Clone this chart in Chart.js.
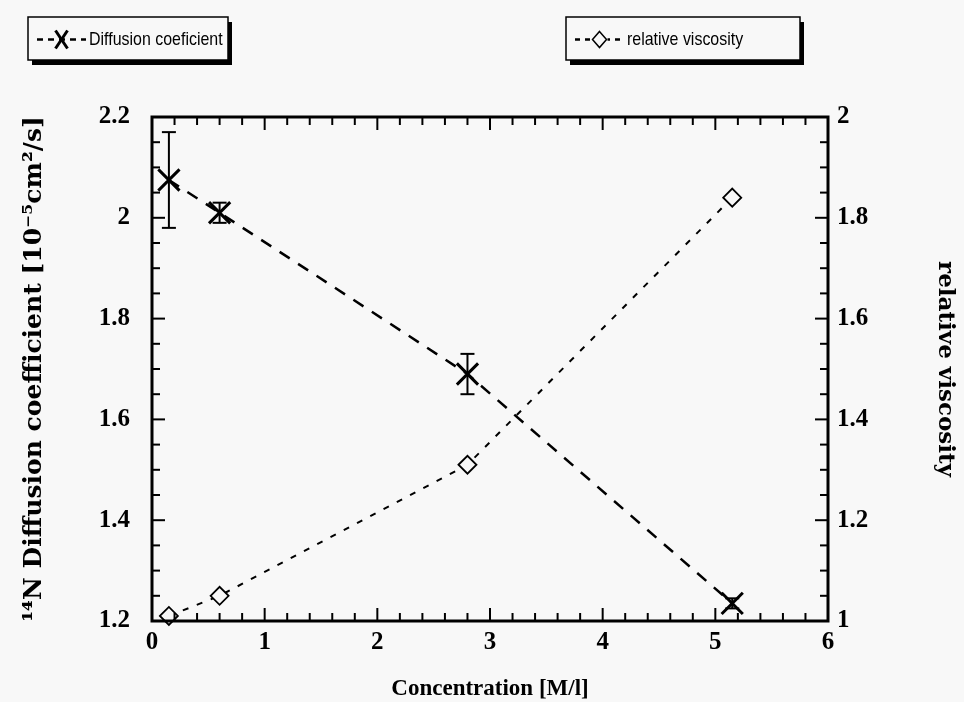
<!DOCTYPE html>
<html lang="en">
<head>
    <meta charset="UTF-8">
    <title>Diffusion coefficient and relative viscosity</title>
    <script src="https://cdn.jsdelivr.net/npm/chart.js"></script>
    <style>
        html, body {
            margin: 0;
            padding: 0;
            background: #f8f8f8;
        }
        #wrap {
            position: relative;
            width: 964px;
            height: 702px;
        }
    </style>
</head>
<body>

<div id="wrap"><canvas id="viscChart"></canvas></div>

<script>
    // Values
    const concentration = [0.15, 0.6, 2.8, 5.15];        // M/l
    const diffusion = [2.075, 2.01, 1.69, 1.235];         // 10^-5 cm^2/s
    const diffusionErr = [0.095, 0.02, 0.04, 0.01];
    const viscosity = [1.01, 1.05, 1.31, 1.84];           // relative
    const xRange = [0, 6];
    const leftRange = [1.2, 2.2];
    const rightRange = [1, 2];

    const BG = '#f8f8f8';
    const serif = "'Liberation Serif', 'Times New Roman', serif";
    const wideSerif = "'DejaVu Serif', serif";
    const sans = "'Liberation Sans', Arial, sans-serif";

    function line(ctx, x1, y1, x2, y2) {
        ctx.beginPath();
        ctx.moveTo(x1, y1);
        ctx.lineTo(x2, y2);
        ctx.stroke();
    }

    // 2.0 -> "2", 1.0 -> "1"
    const tickFmt = v => String(Number(v.toFixed(2)));

    // Box frame with inward ticks on all four sides
    const frameTicks = {
        id: 'frameTicks',
        afterDraw(chart) {
            const {ctx, chartArea: a, scales} = chart;
            ctx.save();
            ctx.strokeStyle = '#000';
            ctx.lineWidth = 3;
            ctx.strokeRect(a.left, a.top, a.right - a.left, a.bottom - a.top);
            ctx.lineWidth = 2;
            for (let i = 0; i <= 30; i++) {
                const px = scales.x.getPixelForValue(xRange[0] + i * 0.2);
                const len = i % 5 === 0 ? 13 : 8;
                line(ctx, px, a.bottom, px, a.bottom - len);
                line(ctx, px, a.top, px, a.top + len);
            }
            for (let i = 0; i <= 20; i++) {
                const len = i % 4 === 0 ? 13 : 8;
                const py = scales.y.getPixelForValue(leftRange[0] + i * 0.05);
                line(ctx, a.left, py, a.left + len, py);
                const py1 = scales.y1.getPixelForValue(rightRange[0] + i * 0.05);
                line(ctx, a.right, py1, a.right - len, py1);
            }
            ctx.restore();
        }
    };

    // Vertical error bars on the diffusion points
    const errorBars = {
        id: 'errorBars',
        afterDatasetsDraw(chart) {
            const {ctx, scales} = chart;
            ctx.save();
            ctx.strokeStyle = '#000';
            ctx.lineWidth = 2;
            concentration.forEach((c, i) => {
                const px = scales.x.getPixelForValue(c);
                const top = scales.y.getPixelForValue(diffusion[i] + diffusionErr[i]);
                const bot = scales.y.getPixelForValue(diffusion[i] - diffusionErr[i]);
                line(ctx, px, top, px, bot);
                line(ctx, px - 7, top, px + 7, top);
                line(ctx, px - 7, bot, px + 7, bot);
            });
            ctx.restore();
        }
    };

    // The two shadowed legend boxes above the plot
    const boxLegend = {
        id: 'boxLegend',
        afterDraw(chart) {
            const ctx = chart.ctx;
            const boxes = [
                {x: 28, y: 17, w: 200, h: 43, text: 'Diffusion coeficient', mark: 'cross', dash: [6, 5]},
                {x: 566, y: 17, w: 234, h: 43, text: 'relative viscosity', mark: 'diamond', dash: [5, 5]}
            ];
            ctx.save();
            boxes.forEach(b => {
                ctx.fillStyle = '#000';
                ctx.fillRect(b.x + 4, b.y + 5, b.w, b.h);
                ctx.fillStyle = BG;
                ctx.fillRect(b.x, b.y, b.w, b.h);
                ctx.strokeStyle = '#000';
                ctx.lineWidth = 1.5;
                ctx.strokeRect(b.x, b.y, b.w, b.h);

                const cy = b.y + b.h / 2 + 1;
                const sx = b.x + 9, ex = b.x + 58, mx = (sx + ex) / 2;
                ctx.setLineDash(b.dash);
                ctx.lineWidth = 2.5;
                line(ctx, sx, cy, ex, cy);
                ctx.setLineDash([]);
                if (b.mark === 'cross') {
                    ctx.lineWidth = 3;
                    line(ctx, mx - 6, cy - 9, mx + 6, cy + 9);
                    line(ctx, mx + 6, cy - 9, mx - 6, cy + 9);
                } else {
                    ctx.fillStyle = BG;
                    ctx.fillRect(mx - 8, cy - 8, 16, 16);
                    ctx.lineWidth = 1.5;
                    ctx.beginPath();
                    ctx.moveTo(mx, cy - 8);
                    ctx.lineTo(mx + 7, cy);
                    ctx.lineTo(mx, cy + 8);
                    ctx.lineTo(mx - 7, cy);
                    ctx.closePath();
                    ctx.stroke();
                }
                // narrow sans, as in the original legend
                ctx.fillStyle = '#000';
                ctx.font = '19px ' + sans;
                ctx.textBaseline = 'middle';
                ctx.translate(ex + 3, cy);
                ctx.scale(0.84, 1);
                ctx.fillText(b.text, 0, 0);
                ctx.setTransform(1, 0, 0, 1, 0, 0);
            });
            ctx.restore();
        }
    };

    const tickFont = {family: serif, size: 25, weight: 'bold'};

    const ctx = document.getElementById('viscChart').getContext('2d');
    new Chart(ctx, {
        type: 'scatter',
        data: {
            datasets: [
                {
                    label: 'Diffusion coeficient',
                    data: concentration.map((c, i) => ({x: c, y: diffusion[i]})),
                    yAxisID: 'y',
                    showLine: true,
                    borderColor: '#000',
                    borderWidth: 2.5,
                    borderDash: [12, 10],
                    pointStyle: 'crossRot',
                    pointRadius: 15,
                    pointBorderWidth: 3,
                    pointBorderColor: '#000',
                    clip: false
                },
                {
                    label: 'relative viscosity',
                    data: concentration.map((c, i) => ({x: c, y: viscosity[i]})),
                    yAxisID: 'y1',
                    showLine: true,
                    borderColor: '#000',
                    borderWidth: 2,
                    borderDash: [6, 9],
                    pointStyle: 'rectRot',
                    pointRadius: 9,
                    pointBorderWidth: 1.8,
                    pointBorderColor: '#000',
                    pointBackgroundColor: BG,
                    clip: false
                }
            ]
        },
        options: {
            responsive: true,
            maintainAspectRatio: false,
            animation: false,
            layout: {padding: {top: 117, left: 0, right: 0, bottom: 0}},
            plugins: {
                legend: {display: false},
                tooltip: {enabled: false}
            },
            scales: {
                x: {
                    type: 'linear',
                    min: xRange[0],
                    max: xRange[1],
                    afterFit: s => { s.height = 81; },
                    grid: {display: false, drawTicks: false},
                    border: {display: false},
                    ticks: {stepSize: 1, padding: 7, color: '#000', font: tickFont, callback: tickFmt},
                    title: {display: true, text: 'Concentration [M/l]', color: '#000',
                        font: {family: serif, size: 23, weight: 'bold'}, padding: {top: 0, bottom: -1}}
                },
                y: {
                    position: 'left',
                    min: leftRange[0],
                    max: leftRange[1],
                    afterFit: s => { s.width = 152; },
                    grid: {display: false, drawTicks: false},
                    border: {display: false},
                    ticks: {stepSize: 0.2, padding: 22, color: '#000', font: tickFont, callback: tickFmt},
                    title: {display: true, text: '¹⁴N Diffusion coefficient [10⁻⁵cm²/s]', color: '#000',
                        font: {family: wideSerif, size: 25, weight: 'bold'}, padding: {top: 19, bottom: 0}}
                },
                y1: {
                    position: 'right',
                    min: rightRange[0],
                    max: rightRange[1],
                    afterFit: s => { s.width = 136; },
                    grid: {display: false, drawTicks: false},
                    border: {display: false},
                    ticks: {stepSize: 0.2, padding: 9, color: '#000', font: tickFont, callback: tickFmt},
                    title: {display: true, text: 'relative viscosity', color: '#000',
                        font: {family: wideSerif, size: 23, weight: 'bold'}, padding: {top: 5, bottom: 0}}
                }
            }
        },
        plugins: [errorBars, frameTicks, boxLegend]
    });
</script>

</body>
</html>
